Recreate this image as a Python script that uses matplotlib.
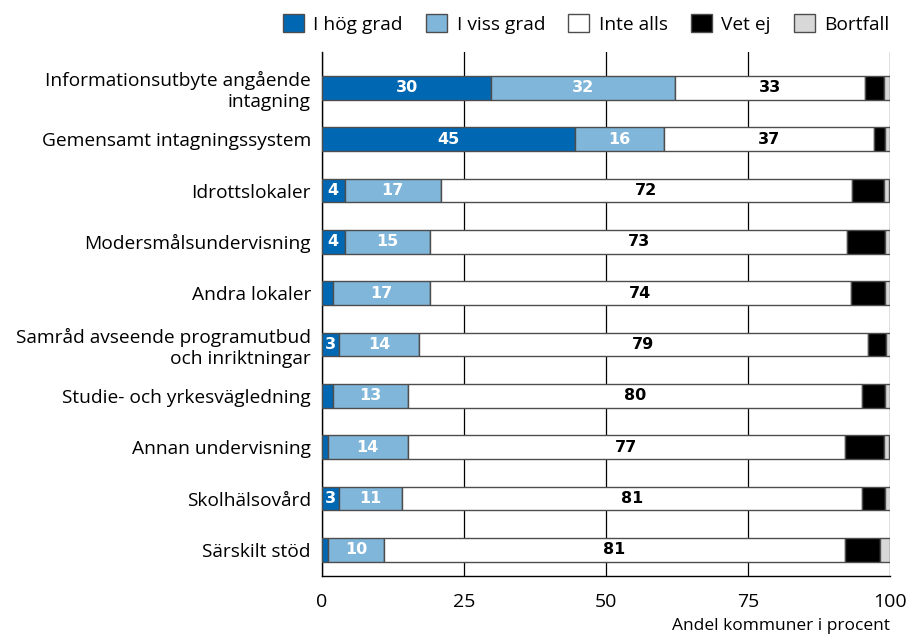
import numpy as np
import matplotlib
matplotlib.use("Agg")
import matplotlib.pyplot as plt

plt.rcParams["font.family"] = ["Open Sans", "DejaVu Sans"]

categories = [
    "Informationsutbyte angående\nintagning",
    "Gemensamt intagningssystem",
    "Idrottslokaler",
    "Modersmålsundervisning",
    "Andra lokaler",
    "Samråd avseende programutbud\noch inriktningar",
    "Studie- och yrkesvägledning",
    "Annan undervisning",
    "Skolhälsovård",
    "Särskilt stöd",
]
hog_grad = [29.8, 44.6, 4.0, 4.0, 2.0, 3.0, 2.0, 1.0, 3.0, 1.0]
viss_grad = [32.4, 15.6, 16.9, 15.1, 17.0, 14.1, 13.1, 14.1, 11.1, 10.0]
inte_alls = [33.4, 36.9, 72.4, 73.4, 74.1, 79.0, 79.9, 76.9, 81.0, 81.0]
vet_ej = [3.4, 2.0, 5.6, 6.6, 6.0, 3.2, 4.1, 7.0, 4.1, 6.2]
bortfall = [1.0, 0.9, 1.0, 0.9, 0.9, 0.9, 0.9, 0.9, 0.9, 1.8]

series = [
    ("I hög grad", hog_grad, "#0068b3", "white"),
    ("I viss grad", viss_grad, "#7fb6da", "white"),
    ("Inte alls", inte_alls, "white", "black"),
    ("Vet ej", vet_ej, "black", None),
    ("Bortfall", bortfall, "#d8d8d8", None),
]

fig = plt.figure(figsize=(9.09, 6.37), dpi=100)
ax = fig.add_axes([322 / 909, 1 - 576 / 637, (890 - 322) / 909, (576 - 52) / 637])

y = np.arange(len(categories))
left = np.zeros(len(categories))
for name, vals, color, txtcol in series:
    vals = np.array(vals)
    ax.barh(y, vals, left=left, height=0.46, color=color, edgecolor="#4d4d4d",
            linewidth=1.0, label=name, zorder=3)
    if txtcol is not None:
        for yi, l, v in zip(y, left, vals):
            if v >= 2.5:
                ax.text(l + v / 2, yi, f"{v:.0f}", ha="center", va="center",
                        color=txtcol, fontsize=11.5, fontweight="bold",
                        family="DejaVu Sans", zorder=4)
    left += vals

ax.set_xlim(0, 100)
ax.set_ylim(9.51, -0.70)
ax.set_yticks(y)
ax.set_yticklabels(categories, fontsize=13.8, linespacing=1.2)
ax.set_xticks([0, 25, 50, 75, 100])
ax.tick_params(axis="both", length=0)
ax.tick_params(axis="x", pad=12, labelsize=14)
ax.tick_params(axis="y", pad=8)
ax.grid(axis="x", color="black", linewidth=0.9, zorder=0)
for s in ["top", "right"]:
    ax.spines[s].set_visible(False)
for s in ["left", "bottom"]:
    ax.spines[s].set_color("black")
    ax.spines[s].set_linewidth(1.0)

ax.set_xlabel("Andel kommuner i procent", fontsize=12.5, loc="right", labelpad=5)

fig.legend(loc="upper right", bbox_to_anchor=(907 / 909, 1.005), ncol=5,
           frameon=False, fontsize=13.8, handlelength=1.1, handleheight=1.1,
           handletextpad=0.5, columnspacing=1.2)

fig.savefig("out.png", dpi=100)
